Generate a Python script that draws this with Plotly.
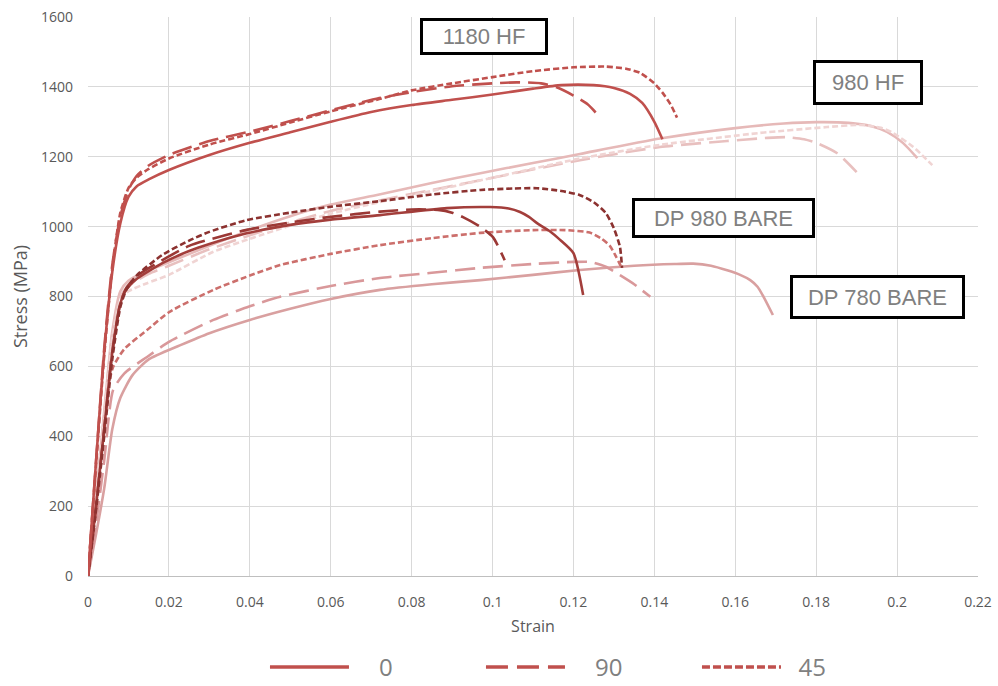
import plotly.graph_objects as go

# ---------------- data ----------------
# 1180 HF
hf1180_0_x = [0, 0.002, 0.004, 0.006, 0.008, 0.010, 0.012, 0.015, 0.02, 0.03, 0.04, 0.05, 0.06, 0.07, 0.08, 0.09, 0.10, 0.11, 0.117, 0.125, 0.13, 0.134, 0.137, 0.14, 0.142]
hf1180_0_y = [0, 330, 640, 870, 1010, 1085, 1115, 1135, 1162, 1205, 1240, 1270, 1300, 1328, 1348, 1363, 1378, 1395, 1405, 1405, 1397, 1380, 1354, 1300, 1250]
hf1180_90_x = [0, 0.002, 0.004, 0.006, 0.008, 0.010, 0.012, 0.015, 0.02, 0.03, 0.04, 0.05, 0.06, 0.072, 0.08, 0.09, 0.1, 0.106, 0.112, 0.116, 0.12, 0.1235, 0.1268]
hf1180_90_y = [0, 330, 650, 890, 1030, 1105, 1145, 1175, 1205, 1245, 1272, 1302, 1333, 1368, 1385, 1402, 1410, 1413, 1410, 1398, 1375, 1350, 1310]
hf1180_45_x = [0, 0.002, 0.004, 0.006, 0.008, 0.010, 0.012, 0.015, 0.02, 0.03, 0.04, 0.05, 0.06, 0.072, 0.08, 0.09, 0.1, 0.11, 0.12, 0.128, 0.133, 0.1365, 0.14, 0.1421, 0.144, 0.1456]
hf1180_45_y = [0, 320, 630, 880, 1040, 1110, 1140, 1165, 1195, 1235, 1265, 1298, 1330, 1365, 1390, 1410, 1428, 1445, 1456, 1458, 1452, 1440, 1410, 1382, 1350, 1312]

# 980 HF
hf980_0_x = [0, 0.002, 0.004, 0.006, 0.008, 0.01, 0.015, 0.02, 0.03, 0.04, 0.05, 0.06, 0.072, 0.085, 0.097, 0.11, 0.1216, 0.1414, 0.16, 0.172, 0.18, 0.188, 0.1935, 0.1975, 0.2015, 0.205]
hf980_0_y = [0, 230, 470, 700, 815, 845, 875, 898, 945, 990, 1030, 1063, 1092, 1125, 1153, 1182, 1208, 1252, 1282, 1295, 1299, 1297, 1288, 1271, 1239, 1196]
hf980_90_x = [0, 0.002, 0.004, 0.006, 0.008, 0.01, 0.015, 0.02, 0.03, 0.04, 0.05, 0.06, 0.072, 0.085, 0.1, 0.1216, 0.1414, 0.158, 0.168, 0.1728, 0.177, 0.1802, 0.1852, 0.19]
hf980_90_y = [0, 220, 460, 690, 800, 830, 865, 888, 935, 975, 1012, 1045, 1075, 1105, 1140, 1190, 1228, 1245, 1254, 1256, 1250, 1239, 1210, 1156]
hf980_45_x = [0, 0.002, 0.004, 0.006, 0.008, 0.01, 0.0146, 0.02, 0.031, 0.04, 0.05, 0.06, 0.072, 0.085, 0.1, 0.1216, 0.1414, 0.166, 0.1827, 0.191, 0.196, 0.199, 0.204, 0.2087]
hf980_45_y = [0, 220, 450, 680, 790, 815, 838, 862, 928, 965, 1003, 1037, 1070, 1102, 1140, 1195, 1234, 1268, 1285, 1291, 1283, 1268, 1228, 1176]

# DP 980 BARE
dp980_0_x = [0, 0.002, 0.004, 0.006, 0.008, 0.0095, 0.012, 0.0185, 0.025, 0.03, 0.039, 0.05, 0.06, 0.0722, 0.0887, 0.0994, 0.104, 0.1068, 0.109, 0.111, 0.114, 0.1167, 0.12, 0.1224]
dp980_0_y = [0, 200, 420, 640, 780, 820, 850, 896, 930, 950, 980, 1005, 1020, 1033, 1053, 1056, 1052, 1042, 1028, 1010, 988, 962, 924, 804]
dp980_90_x = [0, 0.002, 0.004, 0.006, 0.008, 0.0095, 0.012, 0.0185, 0.025, 0.03, 0.039, 0.05, 0.06, 0.0722, 0.08, 0.0865, 0.09, 0.0927, 0.097, 0.1001, 0.103]
dp980_90_y = [0, 200, 420, 640, 780, 825, 858, 905, 945, 963, 990, 1012, 1028, 1043, 1049, 1048, 1040, 1027, 999, 970, 904]
dp980_45_x = [0, 0.002, 0.004, 0.006, 0.008, 0.0095, 0.012, 0.0185, 0.025, 0.03, 0.039, 0.05, 0.06, 0.0722, 0.085, 0.097, 0.105, 0.111, 0.117, 0.1216, 0.125, 0.128, 0.130, 0.1315, 0.132]
dp980_45_y = [0, 190, 400, 620, 770, 820, 860, 920, 960, 985, 1018, 1040, 1057, 1073, 1092, 1105, 1109, 1110, 1102, 1090, 1070, 1039, 995, 942, 882]

# DP 780 BARE
dp780_0_x = [0, 0.002, 0.004, 0.006, 0.008, 0.011, 0.015, 0.0227, 0.03, 0.04, 0.05, 0.06, 0.0722, 0.085, 0.097, 0.11, 0.1216, 0.135, 0.145, 0.1496, 0.154, 0.158, 0.1612, 0.1637, 0.1655, 0.167, 0.1693]
dp780_0_y = [0, 120, 250, 420, 510, 575, 620, 660, 695, 733, 765, 793, 819, 835, 847, 862, 876, 888, 893, 894, 888, 875, 862, 847, 828, 799, 747]
dp780_90_x = [0, 0.002, 0.004, 0.0062, 0.009, 0.0146, 0.02, 0.031, 0.04, 0.0475, 0.06, 0.0722, 0.085, 0.097, 0.11, 0.12, 0.124, 0.128, 0.1315, 0.135, 0.139]
dp780_90_y = [0, 150, 330, 532, 580, 627, 670, 733, 772, 799, 830, 853, 868, 882, 893, 899, 899, 885, 861, 835, 799]
dp780_45_x = [0, 0.002, 0.0047, 0.0062, 0.009, 0.0146, 0.02, 0.031, 0.04, 0.0475, 0.06, 0.0722, 0.085, 0.097, 0.11, 0.118, 0.124, 0.127, 0.129, 0.1305, 0.132]
dp780_45_y = [0, 200, 524, 598, 650, 704, 755, 819, 860, 890, 922, 947, 967, 982, 990, 990, 983, 965, 945, 915, 880]

orientations = ["0", "90", "45"]
material_labels = ["1180 HF", "980 HF", "DP 980 BARE", "DP 780 BARE"]
label_x = [0.0980, 0.1928, 0.1571, 0.1952]
label_y = [1543, 1412, 1024, 798]

x_ticks = [0, 0.02, 0.04, 0.06, 0.08, 0.1, 0.12, 0.14, 0.16, 0.18, 0.2, 0.22]
x_tick_text = ["0", "0.02", "0.04", "0.06", "0.08", "0.1", "0.12", "0.14", "0.16", "0.18", "0.2", "0.22"]
y_ticks = [0, 200, 400, 600, 800, 1000, 1200, 1400, 1600]

# ---------------- styling ----------------
curve_dash = {"0": "solid", "90": "20px,8px", "45": "6px,3px"}
legend_dash = {"0": "solid", "90": "22px,9px", "45": "8px,3px"}
legend_pad = {"0": 4, "90": 4, "45": 2}
FONT = "Open Sans, Lato, sans-serif"

curves = [
    # (x, y, orientation, colour)
    (dp780_0_x, dp780_0_y, "0", "#D9A0A0"),
    (dp780_90_x, dp780_90_y, "90", "#D9989A"),
    (dp780_45_x, dp780_45_y, "45", "#CC6F6C"),
    (hf980_0_x, hf980_0_y, "0", "#E6B9B8"),
    (hf980_90_x, hf980_90_y, "90", "#E8C0BF"),
    (hf980_45_x, hf980_45_y, "45", "#F0D4D3"),
    (dp980_0_x, dp980_0_y, "0", "#A33E3B"),
    (dp980_90_x, dp980_90_y, "90", "#9B3835"),
    (dp980_45_x, dp980_45_y, "45", "#8C3230"),
    (hf1180_0_x, hf1180_0_y, "0", "#C0504D"),
    (hf1180_90_x, hf1180_90_y, "90", "#C0504D"),
    (hf1180_45_x, hf1180_45_y, "45", "#C0504D"),
]

fig = go.Figure()
for x, y, ori, col in curves:
    fig.add_trace(go.Scatter(
        x=x, y=y, mode="lines", name=ori,
        line=dict(color=col, width=2.6, dash=curve_dash[ori], shape="spline", smoothing=0.6),
        showlegend=False,
    ))

# legend entries (orientation key)
for ori in orientations:
    fig.add_trace(go.Scatter(
        x=[None], y=[None], mode="lines",
        name="\u00a0" * legend_pad[ori] + ori,
        line=dict(color="#C0504D", width=3.5, dash=legend_dash[ori]),
        showlegend=True,
    ))

for txt, lx, ly, w, h in zip(material_labels, label_x, label_y,
                              [120, 102, 175, 167], [29, 37, 32, 36]):
    fig.add_annotation(
        x=lx, y=ly, xref="x", yref="y", text=txt, showarrow=False,
        font=dict(family="Liberation Sans, Arial, sans-serif", size=22, color="#808080"),
        bgcolor="white", bordercolor="black", borderwidth=3, borderpad=1,
        width=w, height=h, align="center", valign="middle",
    )

axis_font = dict(family=FONT, size=14, color="#595959")

fig.update_layout(
    width=998, height=686,
    margin=dict(l=88, r=20, t=17, b=110),
    paper_bgcolor="white", plot_bgcolor="white",
    font=dict(family=FONT, color="#595959"),
    xaxis=dict(
        range=[0, 0.22], tickvals=x_ticks, ticktext=x_tick_text,
        showgrid=True, gridcolor="#D9D9D9", gridwidth=1,
        showline=True, linecolor="#BFBFBF", linewidth=1,
        zeroline=False, ticks="", tickfont=axis_font, automargin=False,
        ticklabelstandoff=13,
        title=dict(text="Strain", font=dict(family=FONT, size=16, color="#595959"), standoff=11),
    ),
    yaxis=dict(
        range=[0, 1600], tickvals=y_ticks,
        showgrid=True, gridcolor="#D9D9D9", gridwidth=1,
        showline=False, zeroline=False, ticks="", tickfont=axis_font,
        ticklabelstandoff=14, automargin=False,
        title=dict(text="Stress (MPa)", font=dict(family=FONT, size=18, color="#595959"), standoff=8),
    ),
    legend=dict(
        orientation="h", xref="container", x=0.2655, xanchor="left",
        yref="container", y=0.027, yanchor="middle",
        font=dict(family=FONT, size=24, color="#808080"),
        itemwidth=79, entrywidth=122, entrywidthmode="pixels",
        traceorder="normal", bgcolor="rgba(0,0,0,0)",
    ),
)

fig.write_html("out.html")
